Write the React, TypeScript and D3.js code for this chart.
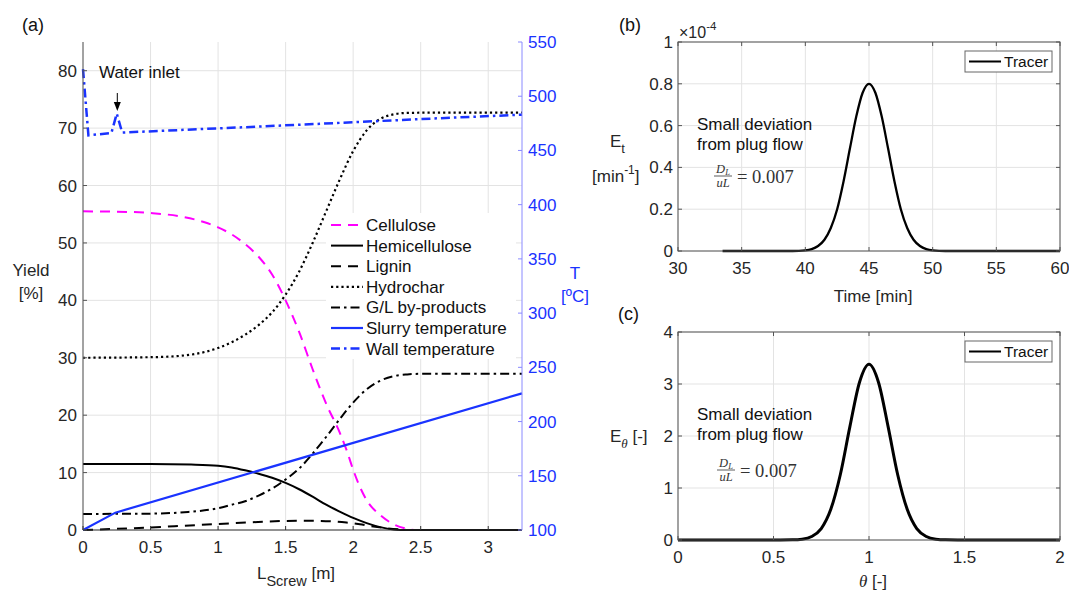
import React from 'react';
import * as d3 from 'd3';

// (a) yield along the screw, pairs of [L_screw (m), value]
const cellulose: [number, number][] = [
  [0, 55.5], [0.25, 55.45], [0.5, 55.2], [0.75, 54.5], [0.9, 53.6], [1.0, 52.7], [1.1, 51.5],
  [1.2, 49.8], [1.3, 47.6], [1.4, 44.5], [1.5, 40.0], [1.6, 34.5], [1.7, 28.0], [1.8, 22.0],
  [1.9, 17.0], [1.95, 14.0], [2.0, 10.5], [2.05, 7.5], [2.1, 5.2], [2.2, 2.6], [2.3, 1.0],
  [2.4, 0.2], [2.45, 0],
];
const hemicellulose: [number, number][] = [
  [0, 11.5], [0.5, 11.5], [0.8, 11.4], [1.0, 11.2], [1.1, 10.9], [1.2, 10.4], [1.3, 9.8],
  [1.4, 9.1], [1.5, 8.2], [1.6, 7.1], [1.7, 5.8], [1.8, 4.4], [1.9, 3.2], [2.0, 2.1],
  [2.1, 1.2], [2.2, 0.5], [2.3, 0.1], [2.4, 0], [3.25, 0],
];
const lignin: [number, number][] = [
  [0, 0], [0.25, 0.2], [0.5, 0.45], [0.75, 0.75], [1.0, 1.05], [1.25, 1.35], [1.5, 1.57],
  [1.7, 1.6], [1.85, 1.5], [1.95, 1.3], [2.05, 1.0], [2.15, 0.6], [2.25, 0.3], [2.4, 0],
];
const hydrochar: [number, number][] = [
  [0, 30], [0.5, 30.1], [0.75, 30.4], [0.9, 31.0], [1.0, 31.7], [1.1, 32.7], [1.2, 34.0],
  [1.3, 35.7], [1.4, 37.9], [1.5, 41.0], [1.6, 45.0], [1.7, 50.0], [1.8, 55.5], [1.9, 61.0],
  [2.0, 66.0], [2.1, 69.6], [2.2, 71.6], [2.3, 72.4], [2.4, 72.65], [2.6, 72.7], [3.25, 72.7],
];
const byProducts: [number, number][] = [
  [0, 2.8], [0.5, 2.85], [0.75, 3.1], [1.0, 3.8], [1.1, 4.4], [1.2, 5.0], [1.3, 6.0],
  [1.4, 7.2], [1.5, 8.8], [1.6, 10.7], [1.7, 13.3], [1.8, 16.2], [1.9, 19.3], [2.0, 22.2],
  [2.1, 24.5], [2.2, 26.0], [2.3, 26.8], [2.4, 27.1], [2.5, 27.2], [3.25, 27.2],
];
// temperatures (ºC), right axis
const slurryTemp: [number, number][] = [[0, 100], [0.24, 116], [3.25, 226]];
const wallTemp: [number, number][] = [
  [0, 525], [0.04, 464], [0.21, 466], [0.25, 484], [0.29, 466.5], [1.3, 472], [2.0, 476],
  [2.6, 479.5], [3.25, 483],
];

const screwTicks = [0, 0.5, 1, 1.5, 2, 2.5, 3];
const yieldTicks = [0, 10, 20, 30, 40, 50, 60, 70, 80];
const tempTicks = [100, 150, 200, 250, 300, 350, 400, 450, 500, 550];

// (b) tracer E_t (x1e-4 min^-1)
const tracerTime = [33.5, 35, 37, 39, 40, 40.5, 41, 41.5, 42, 42.5, 43, 43.5, 44, 44.5, 45,
  45.5, 46, 46.5, 47, 47.5, 48, 48.5, 49, 49.5, 50, 51, 53, 55, 57, 60];
const tracerEt = [0, 0, 0, 0, 0.003, 0.009, 0.024, 0.054, 0.11, 0.2, 0.333, 0.49, 0.643, 0.757, 0.8,
  0.757, 0.643, 0.49, 0.333, 0.2, 0.11, 0.054, 0.024, 0.009, 0.003, 0, 0, 0, 0, 0];
const timeTicks = [30, 35, 40, 45, 50, 55, 60];
const etTicks = [0, 0.2, 0.4, 0.6, 0.8, 1];

// (c) tracer E_theta
const tracerTheta = [0, 0.5, 0.6, 0.65, 0.7, 0.75, 0.8, 0.85, 0.9, 0.95, 1.0, 1.05, 1.1, 1.15,
  1.2, 1.25, 1.3, 1.35, 1.4, 1.5, 2.0];
const tracerEtheta = [0, 0, 0.003, 0.016, 0.068, 0.22, 0.59, 1.26, 2.18, 3.03, 3.38, 3.03, 2.18,
  1.26, 0.59, 0.22, 0.068, 0.016, 0.003, 0, 0];
const thetaTicks = [0, 0.5, 1, 1.5, 2];
const ethetaTicks = [0, 1, 2, 3, 4];

const FONT = 'Liberation Sans, Arial, Helvetica, sans-serif';
const SERIF = 'Liberation Serif, DejaVu Serif, serif';
const BLUE = '#1a33ff';
const MAGENTA = '#ff00ff';
const GRID = '#e3e3e3';

const series = [
  { name: 'Cellulose', data: cellulose, axis: 'L', color: MAGENTA, dash: '10,7', width: 2 },
  { name: 'Hemicellulose', data: hemicellulose, axis: 'L', color: '#000', dash: null, width: 2 },
  { name: 'Lignin', data: lignin, axis: 'L', color: '#000', dash: '10,7', width: 2 },
  { name: 'Hydrochar', data: hydrochar, axis: 'L', color: '#000', dash: '2.2,3', width: 2.2 },
  { name: 'G/L by-products', data: byProducts, axis: 'L', color: '#000', dash: '9,4,2.5,4', width: 2 },
  { name: 'Slurry temperature', data: slurryTemp, axis: 'R', color: BLUE, dash: null, width: 2.2 },
  { name: 'Wall temperature', data: wallTemp, axis: 'R', color: BLUE, dash: '9,4,2.5,4', width: 2.5 },
];

const fmt = (v: number) => String(v);

const PanelA = () => {
  const x = d3.scaleLinear().domain([0, 3.25]).range([83, 522]);
  const yL = d3.scaleLinear().domain([0, 85]).range([530, 42]);
  const yR = d3.scaleLinear().domain([100, 550]).range([530, 42]);
  const [top, bottom] = [42, 530];

  return (
    <g>
      {screwTicks.map(t => (
        <line key={'gx' + t} x1={x(t)} x2={x(t)} y1={top} y2={bottom} stroke={GRID} />
      ))}
      {yieldTicks.map(t => (
        <line key={'gy' + t} x1={83} x2={522} y1={yL(t)} y2={yL(t)} stroke={GRID} />
      ))}

      {series.map(s => {
        const ys = s.axis === 'L' ? yL : yR;
        const line = d3.line<[number, number]>()
          .x(d => x(d[0]))
          .y(d => ys(d[1]))
          .curve(s.axis === 'R' ? d3.curveLinear : d3.curveMonotoneX);
        return (
          <path key={s.name} d={line(s.data) || ''} fill="none" stroke={s.color}
            strokeWidth={s.width} strokeDasharray={s.dash || undefined} />
        );
      })}

      {/* axes */}
      <line x1={83} x2={83} y1={top} y2={bottom} stroke="#555" />
      <line x1={83} x2={522} y1={bottom} y2={bottom} stroke="#333" />
      <line x1={522} x2={522} y1={top} y2={bottom} stroke="#8a8aff" />
      {screwTicks.map(t => (
        <g key={'tx' + t}>
          <line x1={x(t)} x2={x(t)} y1={bottom} y2={bottom - 4} stroke="#333" />
          <text x={x(t)} y={553} textAnchor="middle" fontSize={17} fill="#262626">{fmt(t)}</text>
        </g>
      ))}
      {yieldTicks.map(t => (
        <g key={'ty' + t}>
          <line x1={83} x2={87} y1={yL(t)} y2={yL(t)} stroke="#555" />
          <text x={77} y={yL(t) + 6} textAnchor="end" fontSize={17} fill="#262626">{fmt(t)}</text>
        </g>
      ))}
      {tempTicks.map(t => (
        <g key={'tr' + t}>
          <line x1={518} x2={522} y1={yR(t)} y2={yR(t)} stroke="#8a8aff" />
          <text x={528} y={yR(t) + 6} textAnchor="start" fontSize={17} fill={BLUE}>{fmt(t)}</text>
        </g>
      ))}

      {/* axis labels */}
      <text x={31} y={276} textAnchor="middle" fontSize={17} fill="#262626">Yield</text>
      <text x={31} y={299} textAnchor="middle" fontSize={17} fill="#262626">[%]</text>
      <text x={575} y={279} textAnchor="middle" fontSize={17} fill={BLUE}>T</text>
      <text x={575} y={302} textAnchor="middle" fontSize={17} fill={BLUE}>[ºC]</text>
      <text x={296} y={579} textAnchor="middle" fontSize={17} fill="#262626">
        L<tspan fontSize={14.5} dy={7}>Screw</tspan><tspan dy={-7}> [m]</tspan>
      </text>
      <text x={22} y={31} fontSize={18} fill="#111">(a)</text>

      {/* annotation */}
      <text x={99} y={78} fontSize={17} fill="#111">Water inlet</text>
      <line x1={x(0.254)} x2={x(0.254)} y1={93} y2={104} stroke="#000" strokeWidth={1} />
      <path d={`M${x(0.254) - 3.5},${102} L${x(0.254) + 3.5},${102} L${x(0.254)},${111} Z`} fill="#000" />

      {/* legend */}
      <rect x={326} y={213} width={190} height={146} fill="#fff" />
      {series.map((s, i) => {
        const yy = 225 + i * 20.6;
        return (
          <g key={'lg' + s.name}>
            <line x1={331} x2={363} y1={yy} y2={yy} stroke={s.color}
              strokeWidth={s.width} strokeDasharray={s.dash || undefined} />
            <text x={366} y={yy + 6} fontSize={17} fill="#111">{s.name}</text>
          </g>
        );
      })}
    </g>
  );
};

type PanelProps = {
  xs: number[]; ys: number[]; xDomain: [number, number]; yDomain: [number, number];
  xTicks: number[]; yTicks: number[]; top: number; bottom: number; strokeWidth: number;
};

const TracerPanel = ({ xs, ys, xDomain, yDomain, xTicks, yTicks, top, bottom, strokeWidth }: PanelProps) => {
  const left = 678, right = 1060;
  const x = d3.scaleLinear().domain(xDomain).range([left, right]);
  const y = d3.scaleLinear().domain(yDomain).range([bottom, top]);
  const line = d3.line<number>().x((d, i) => x(xs[i])).y(d => y(d)).curve(d3.curveMonotoneX);
  return (
    <g>
      {xTicks.map(t => (
        <line key={'gx' + t} x1={x(t)} x2={x(t)} y1={top} y2={bottom} stroke={GRID} />
      ))}
      {yTicks.map(t => (
        <line key={'gy' + t} x1={left} x2={right} y1={y(t)} y2={y(t)} stroke={GRID} />
      ))}
      <path d={line(ys) || ''} fill="none" stroke="#000" strokeWidth={strokeWidth} strokeLinejoin="round" />
      <rect x={left} y={top} width={right - left} height={bottom - top} fill="none" stroke="#555" />
      {xTicks.map(t => (
        <g key={'tx' + t}>
          <line x1={x(t)} x2={x(t)} y1={bottom} y2={bottom - 4} stroke="#555" />
          <line x1={x(t)} x2={x(t)} y1={top} y2={top + 4} stroke="#555" />
          <text x={x(t)} y={bottom + 23} textAnchor="middle" fontSize={17} fill="#262626">{fmt(t)}</text>
        </g>
      ))}
      {yTicks.map(t => (
        <g key={'ty' + t}>
          <line x1={left} x2={left + 4} y1={y(t)} y2={y(t)} stroke="#555" />
          <line x1={right} x2={right - 4} y1={y(t)} y2={y(t)} stroke="#555" />
          <text x={673} y={y(t) + 6} textAnchor="end" fontSize={17} fill="#262626">{fmt(t)}</text>
        </g>
      ))}
      {/* legend */}
      <rect x={965} y={top + 9} width={87} height={21} fill="#fff" stroke="#666" />
      <line x1={969} x2={1001} y1={top + 19.5} y2={top + 19.5} stroke="#000" strokeWidth={2} />
      <text x={1004} y={top + 25} fontSize={15.5} fill="#111">Tracer</text>
      {/* annotation */}
      <text x={697} y={top + 88} fontSize={17} fill="#111">Small deviation</text>
      <text x={697} y={top + 108} fontSize={17} fill="#111">from plug flow</text>
    </g>
  );
};

const Fraction = ({ x0, yc }: { x0: number; yc: number }) => (
  <g fontFamily={SERIF} fill="#333">
    <text x={x0 + 9} y={yc - 3.5} fontSize={12.5} fontStyle="italic" textAnchor="middle">
      D<tspan fontSize={8.5} dy={2.5}>L</tspan>
    </text>
    <line x1={x0} x2={x0 + 18} y1={yc} y2={yc} stroke="#333" strokeWidth={0.8} />
    <text x={x0 + 9} y={yc + 11} fontSize={12.5} fontStyle="italic" textAnchor="middle">uL</text>
    <text x={x0 + 23} y={yc + 6.5} fontSize={18.5}>= 0.007</text>
  </g>
);

export default function App() {
  return (
    <svg width={1069} height={592} viewBox="0 0 1069 592"
      style={{ position: 'absolute', left: 0, top: 0, background: '#fff' }} fontFamily={FONT}>
      <rect x={0} y={0} width={1069} height={592} fill="#fff" />
      <PanelA />

      <TracerPanel xs={tracerTime} ys={tracerEt} xDomain={[30, 60]} yDomain={[0, 1]}
        xTicks={timeTicks} yTicks={etTicks} top={42} bottom={251} strokeWidth={2.3} />
      <text x={619} y={31} fontSize={18} fill="#111">(b)</text>
      <text x={679} y={38} fontSize={16} fill="#262626">×10<tspan fontSize={11.5} dy={-8}>-4</tspan></text>
      <text x={610} y={147} fontSize={17} fill="#262626">E<tspan fontSize={13} dy={6}>t</tspan></text>
      <text x={592} y={182} fontSize={17} fill="#262626">
        [min<tspan fontSize={12} dy={-8}>-1</tspan><tspan dy={8}>]</tspan>
      </text>
      <text x={873} y={302} textAnchor="middle" fontSize={17} fill="#262626">Time [min]</text>
      <Fraction x0={714} yc={176} />

      <TracerPanel xs={tracerTheta} ys={tracerEtheta} xDomain={[0, 2]} yDomain={[0, 4]}
        xTicks={thetaTicks} yTicks={ethetaTicks} top={332} bottom={540} strokeWidth={3} />
      <text x={618} y={320} fontSize={18} fill="#111">(c)</text>
      <text x={610} y={442} fontSize={17} fill="#262626">
        E<tspan fontFamily={SERIF} fontStyle="italic" fontSize={13} dy={6}>θ</tspan>
        <tspan dy={-6}> [-]</tspan>
      </text>
      <text x={873} y={587} textAnchor="middle" fontSize={17} fill="#262626">
        <tspan fontFamily={SERIF} fontStyle="italic">θ</tspan> [-]
      </text>
      <Fraction x0={717} yc={470} />
    </svg>
  );
}
